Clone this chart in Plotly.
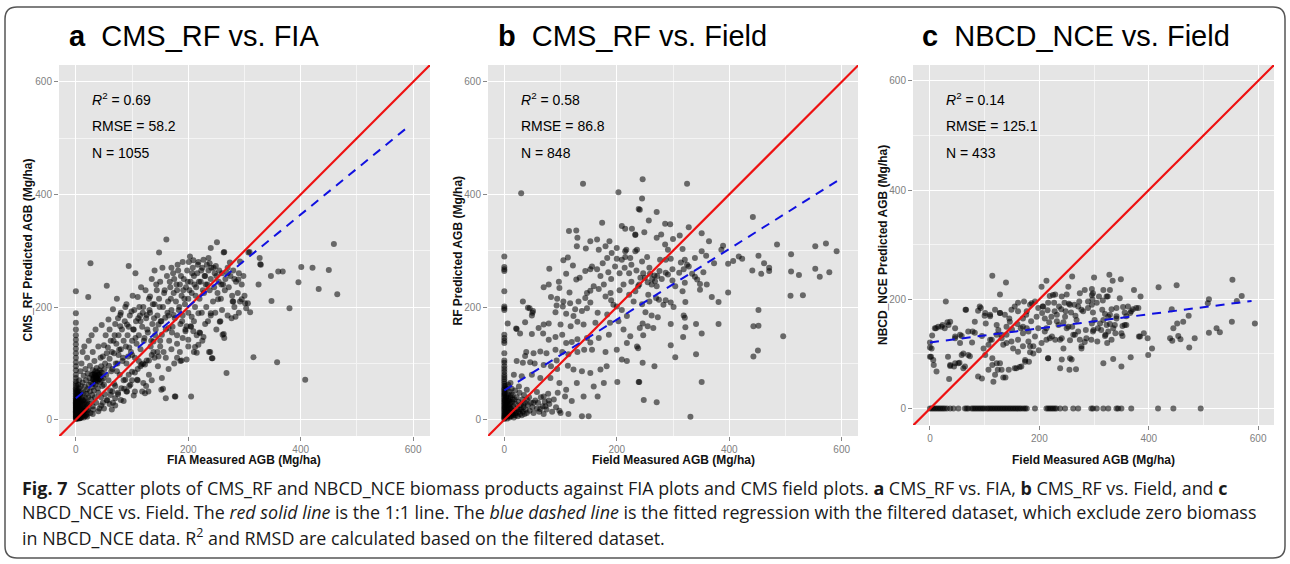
import plotly.graph_objects as go

# ---------------- data ----------------
# Panel a: CMS_RF predicted vs FIA measured AGB (Mg/ha)
a_pts = [
(0,1),(0,3),(0,5),(0,7),(0,9),(0,11),(0,13),(0,15),(0,17),(0,19),(0,21),(0,23),(0,25),(0,27),(0,29),(0,31),(0,33),(0,35),(0,38),(0,41),
(0,44),(0,47),(0,50),(0,53),(0,56),(0,60),(0,64),(0,68),(0,74),(0,80),(0,88),(0,95),(0,102),(0,110),(0,118),(0,126),(0,134),(0,142),(0,150),(0,160),
(0,172),(0,189),(0,228),(1,4),(1,12),(1,20),(1,28),(2,8),(2,16),(2,32),(2,42),(3,2),(3,24),(3,36),(3,52),(4,10),(4,18),(4,46),(4,62),(5,5),
(5,14),(5,30),(5,40),(6,22),(6,56),(6,70),(7,3),(7,12),(7,34),(8,8),(8,26),(8,44),(8,86),(9,18),(9,60),(10,4),(10,30),(10,50),(10,100),(11,14),
(11,40),(12,22),(12,66),(12,120),(13,8),(13,35),(14,48),(14,78),(15,16),(15,28),(15,130),(16,6),(16,58),(17,38),(17,90),(18,20),(18,70),(19,46),(20,10),(20,30),
(20,54),(20,110),(21,82),(22,18),(22,40),(22,218),(23,62),(23,140),(24,28),(24,74),(25,50),(25,96),(26,12),(26,278),(27,36),(27,66),(28,80),(28,150),(29,44),(29,58),
(30,24),(30,72),(30,88),(30,120),(31,18),(31,64),(32,52),(32,76),(33,82),(33,104),(34,70),(34,40),(35,62),(35,86),(35,160),(36,78),(36,30),(37,74),(37,92),(38,68),
(38,84),(39,56),(40,80),(40,48),(40,130),(41,72),(42,88),(42,20),(43,66),(44,76),(44,110),(45,95),(45,40),(46,84),(46,168),(47,60),(48,112),(48,30),(49,74),(50,62),
(50,132),(51,90),(52,100),(52,45),(53,150),(54,80),(55,238),(55,118),(56,34),(57,128),(58,70),(58,178),(59,96),(60,108),(60,160),(61,52),(62,44),(62,140),(63,86),(64,120),
(64,18),(65,90),(66,30),(66,196),(67,140),(68,118),(68,64),(69,150),(70,170),(70,60),(70,38),(71,100),(72,135),(73,86),(73,215),(74,100),(75,180),(75,48),(76,150),(76,115),
(77,124),(78,80),(79,166),(79,186),(80,125),(80,190),(81,56),(82,160),(83,104),(84,110),(85,140),(85,33),(86,55),(87,175),(88,71),(88,200),(89,130),(90,100),(90,205),(91,50),
(91,169),(92,150),(93,112),(94,273),(94,165),(94,80),(95,128),(96,185),(97,62),(98,120),(99,192),(100,140),(100,70),(100,115),(101,220),(102,160),(103,43),(103,160),(104,195),(105,110),
(105,84),(106,260),(106,145),(107,175),(108,135),(109,71),(110,218),(110,90),(111,180),(112,150),(112,104),(113,200),(114,185),(115,125),(115,175),(116,235),(117,98),(118,165),(118,50),(119,190),
(120,200),(120,65),(121,140),(122,145),(123,47),(123,98),(124,230),(125,180),(126,105),(126,186),(127,160),(128,155),(129,50),(130,215),(130,80),(131,195),(132,190),(132,219),(133,130),(134,140),
(135,250),(135,115),(136,170),(137,205),(138,120),(138,139),(139,180),(140,205),(140,265),(141,150),(142,160),(143,240),(144,230),(145,185),(146,95),(147,169),(147,112),(148,297),(148,215),(149,200),
(150,140),(150,245),(151,175),(152,53),(152,175),(153,151),(153,74),(154,270),(155,200),(155,55),(156,120),(157,225),(158,230),(159,181),(160,160),(160,38),(161,320),(162,255),(163,190),(164,210),
(165,185),(165,163),(166,140),(167,245),(168,235),(169,215),(170,270),(170,195),(171,155),(172,165),(173,260),(174,225),(174,186),(175,250),(176,41),(176,180),(177,41),(178,210),(179,240),(180,230),
(180,150),(180,110),(181,275),(182,265),(183,195),(184,200),(185,240),(186,170),(186,104),(187,255),(188,105),(188,220),(189,175),(190,280),(190,185),(191,230),(192,250),(193,215),(194,205),(195,160),
(195,157),(196,235),(197,107),(197,166),(198,265),(199,245),(200,215),(200,190),(200,142),(201,280),(202,230),(203,290),(204,245),(204,166),(205,41),(206,225),(206,183),(207,260),(208,270),(209,157),
(209,283),(210,175),(210,255),(211,240),(212,200),(212,129),(213,220),(214,235),(215,150),(215,119),(216,260),(217,275),(218,280),(218,189),(218,133),(219,245),(220,215),(221,154),(222,245),(223,265),
(224,190),(225,270),(226,230),(227,284),(227,147),(228,225),(229,255),(230,255),(231,240),(232,200),(233,275),(234,240),(235,175),(236,265),(236,287),(237,120),(238,230),(238,278),(239,120),(240,305),
(240,250),(240,189),(241,270),(242,109),(243,109),(244,210),(245,270),(246,235),(247,260),(248,190),(249,273),(250,255),(251,315),(252,225),(253,214),(254,245),(255,265),(256,174),(257,175),(258,215),
(259,240),(260,260),(261,151),(262,240),(263,297),(263,152),(264,145),(264,298),(265,230),(266,250),(268,83),(270,270),(270,260),(272,235),(274,279),(275,255),(277,180),(278,220),(279,210),(280,265),
(282,250),(282,200),(284,183),(285,245),(288,225),(289,249),(290,260),(292,281),(292,210),(295,240),(295,214),(298,255),(300,220),(301,207),(303,198),(306,207),(307,297),(309,298),(310,191),(316,111),
(325,240),(327,287),(328,276),(329,275),(347,255),(348,211),(358,102),(360,263),(368,263),(380,198),(396,244),(401,271),(408,71),(421,270),(432,232),(450,266),(459,312),(465,223),
(20,5),(30,10),(40,15),(45,25),(50,20),(55,35),(60,28),(65,50),(70,25),(75,45),(80,35),(85,70),(90,50),(95,60),(100,85),(105,50),(110,70),(115,95),(120,100),(125,60),
(130,105),(135,70),(140,110),(145,120),(150,130),(160,110),(165,90),(170,125),(175,100),(180,135),(185,120),(190,145),(200,130),(205,165),(210,120),(220,155),(225,140),(230,170),(240,185),(250,160),
(260,195),(270,185),(280,210),(290,190),
(1,6),(1,16),(1,24),(1,36),(2,2),(2,12),(2,22),(2,48),(3,6),(3,14),(3,30),(4,4),(4,26),(4,38),(5,9),(5,20),(5,50),(6,2),(6,14),(6,30),
(7,7),(7,20),(7,44),(8,3),(8,16),(9,10),(9,32),(10,20),(11,6),(12,12),(12,34),(13,24),(14,4),(14,16),(16,12),(16,32),(17,22),(18,8),(19,28),(21,16),
(32,72),(34,80),(36,70),(38,76),(40,72),(42,80),(44,84),(46,70),(30,80),(35,74),
]
a_fit_x = [0, 592]
a_fit_y = [38, 521]

# Panel b: CMS_RF predicted vs field measured AGB
b_pts = [
(0,1),(0,3),(0,5),(0,8),(0,11),(0,14),(0,17),(0,20),(0,23),(0,26),(0,29),(0,32),(0,35),(0,38),(0,41),(0,44),(0,47),(0,50),(0,53),(0,56),
(0,60),(0,64),(0,68),(0,72),(0,76),(0,80),(0,85),(0,90),(0,95),(0,101),(0,105),(0,118),(0,136),(0,140),(0,145),(0,151),(0,195),(0,198),(0,201),(0,228),
(0,264),(0,267),(0,271),(0,290),(2,5),(2,15),(3,25),(3,40),(4,10),(4,55),(5,2),(5,30),(6,18),(6,45),(7,8),(7,62),(8,24),(8,35),(9,4),(9,50),
(10,14),(10,28),(11,40),(12,6),(12,20),(13,55),(14,32),(15,10),(15,44),(16,24),(17,4),(18,16),(18,36),(19,52),(20,8),(20,28),(21,12),(22,40),(23,20),(24,6),
(25,32),(26,14),(27,48),(28,10),(29,26),(30,18),(31,8),(32,36),(33,14),(34,22),(35,44),(36,10),(37,30),(38,18),(40,12),(42,26),(44,40),(45,16),(47,30),(50,22),
(52,12),(55,34),(58,20),(60,30),(62,14),(65,40),(68,24),(70,10),(72,32),(75,18),(78,46),(80,28),(85,14),(88,36),(92,22),(95,48),(98,16),
(6,171),(33,210),(21,162),(45,198),(50,190),(30,402),
(140,419),(203,404),(174,350),(239,374),(115,335),(128,336),(130,323),(129,308),(145,304),(105,283),(113,288),(80,268),(122,274),(134,252),(128,249),(110,259),(70,235),(79,240),(98,234),(97,245),
(116,226),(83,218),(94,215),(105,210),(104,201),(93,203),(42,199),(51,193),(49,185),(91,191),(110,188),(123,184),(130,174),(138,193),(147,198),(153,208),(166,190),(162,172),(141,169),(118,166),
(100,169),(79,171),(70,169),(61,163),(37,173),(22,161),(28,153),(49,152),(69,153),(79,142),(91,147),(103,151),(110,136),(120,138),(130,143),(147,145),(153,137),(168,145),(186,151),(180,120),
(156,124),(142,124),(130,120),(114,116),(103,120),(91,124),(75,118),(64,121),(52,118),(39,120),(37,113),(22,104),(33,101),(46,102),(54,100),(70,97),(83,95),(93,105),(94,90),(113,96),
(123,89),(138,86),(153,83),(171,89),(182,95),(177,65),(159,59),(129,65),(110,53),(98,65),(82,74),(64,74),(49,80),(31,77),(17,80),(11,65),(26,59),(40,53),(58,49),(70,41),
(79,34),(73,24),(64,19),(52,30),(40,36),(34,27),(28,18),(20,12),(11,21),(8,33),(4,41),(15,36),(100,12),(114,10),(138,6),(150,6),(120,33),(108,41),(141,41),(166,41),
(200,286),(209,284),(215,289),(224,287),(233,299),(215,299),(191,296),(183,287),(175,278),(165,267),(153,267),(171,255),(159,237),(153,229),(168,232),(177,240),(189,225),(180,219),(194,204),(200,201),
(209,195),(218,184),(203,175),(188,172),(183,187),(212,160),(224,148),(218,136),(200,124),(209,107),(218,104),(236,130),(239,67),(201,67),(165,320),(153,317),(187,317),(168,302),(180,308),(200,305),
(217,302),(209,344),(215,339),(227,339),(233,329),(144,264),(156,272),(132,210),(147,225),(144,216),(126,196),(117,207),
(246,427),(325,419),(245,393),(241,373),(271,369),(257,354),(286,348),(295,347),(328,342),(351,331),(364,317),(389,309),(233,328),(249,333),(271,323),(279,329),(286,311),(291,302),(312,327),(300,321),
(236,302),(254,289),(245,281),(277,284),(287,284),(296,286),(317,303),(321,284),(314,279),(325,275),(339,287),(351,299),(359,291),(373,278),(386,302),(398,277),(407,282),(417,290),(423,286),(442,360),
(485,311),(553,308),(572,313),(591,299),(510,294),(452,291),(462,278),(471,270),(471,264),(441,265),(457,259),(510,263),(524,257),(553,268),(561,254),(578,262),(509,220),(531,221),(398,226),(381,209),
(369,218),(354,262),(360,240),(348,241),(343,249),(339,254),(334,259),(328,272),(319,267),(311,261),(299,267),(291,258),(287,261),(276,264),(267,256),(259,259),(250,252),(242,252),(238,237),(233,228),
(256,222),(271,237),(299,247),(304,237),(317,228),(321,243),(348,231),(270,216),(275,213),(287,212),(296,208),(301,200),(322,209),(319,185),(321,181),(283,204),(251,191),(262,185),(273,182),(246,171),
(255,166),(265,163),(296,170),(322,164),(341,170),(381,170),(351,153),(318,147),(296,132),(247,150),(241,163),(238,127),(246,101),(267,95),(304,111),(341,116),(240,67),(248,35),(271,31),(331,5),
(351,67),(452,195),(443,166),(452,167),(451,123),(443,112),(496,148),(263,250),(268,246),(272,255),(255,244),(262,240),(280,250),(247,260),(258,270),(235,265),(226,275),
(222,260),(214,270),(205,260),(197,272),(190,250),(212,240),(226,245),(240,240),(185,262),(230,210),(222,222),(245,205),(258,210),(205,230),(190,212),
(1,10),(1,22),(1,34),(1,46),(2,28),(2,60),(3,8),(3,18),(4,34),(5,14),(6,6),(6,26),(7,38),(8,12),(9,20),(10,6),(11,30),(12,44),(14,12),(16,8),
]
b_fit_x = [0, 600]
b_fit_y = [52, 429]

# Panel c: NBCD_NCE predicted vs field measured AGB
c_pts = [
(114,243),(139,231),(29,196),(128,209),(213,234),(204,223),(260,242),(219,206),(229,209),(241,205),(250,209),(274,211),(283,217),(296,208),(192,196),(183,190),(198,184),(207,187),(216,194),(227,194),
(236,187),(246,194),(254,192),(264,190),(271,187),(277,181),(289,184),(296,190),(155,187),(161,194),(149,181),(137,172),(145,165),(128,175),(119,181),(110,172),(101,175),(88,179),(91,187),(65,181),
(37,159),(34,153),(21,150),(15,150),(9,147),(4,134),(0,121),(0,112),(2,95),(6,89),(12,68),(35,54),(37,78),(44,77),(52,83),(58,98),(70,98),(61,74),(64,77),(46,147),
(46,129),(55,120),(58,133),(70,141),(77,121),(82,139),(95,133),(98,110),(101,98),(107,117),(113,126),(122,135),(125,144),(131,129),(134,117),(140,135),(149,123),(152,110),(161,126),(161,104),
(170,138),(170,114),(177,147),(180,123),(183,103),(189,114),(192,132),(199,107),(204,120),(210,141),(213,126),(216,92),(223,132),(229,126),(241,129),(241,90),(244,110),(253,150),(256,125),(259,90),
(265,135),(271,141),(274,126),(277,110),(283,122),(286,129),(296,156),(299,144),(114,92),(114,80),(122,83),(124,71),(131,71),(119,62),(134,57),(116,49),(155,74),(167,77),(174,89),(181,86),
(144,71),(107,71),(95,55),(7,80),(0,95),(3,110),(33,95),(37,80),(46,83),(54,84),(61,101),(73,96),(88,59),(128,83),(138,57),(158,74),(164,76),(174,86),(11,147),(23,153),
(27,147),(32,158),(46,132),(55,135),(66,181),(78,141),(82,159),(93,184),(102,156),(100,170),(110,169),(110,126),(122,153),(128,175),(131,135),(140,120),(146,159),(161,178),(166,147),(172,196),
(177,178),(180,141),(183,114),(186,193),(189,101),(198,147),(206,187),(210,165),(213,147),(219,129),(225,208),(228,178),(235,153),(238,126),(247,168),(250,147),(253,223),(256,190),(262,135),(268,162),
(273,196),(277,114),(280,178),(285,144),(289,196),(295,126),(298,211),(301,162),(307,147),(309,205),(315,181),(321,135),(325,205),(329,172),(335,147),(341,169),(350,138),(356,153),(362,187),(368,178),
(377,184),(384,132),(359,169),(238,74),(255,71),(267,72),(256,92),(216,92),(317,83),(335,91),(350,77),(367,94),
(300,240),(328,245),(349,237),(334,234),(418,222),(451,226),(553,236),(570,206),(561,197),(510,200),(508,193),(296,219),(317,217),(329,217),(373,217),(385,205),(297,200),(305,194),(316,198),(323,205),
(347,202),(332,182),(341,184),(353,186),(356,176),(366,175),(371,182),(381,184),(298,176),(320,173),(326,168),(341,165),(317,162),(311,156),(323,153),(329,155),(338,153),(352,151),(359,153),(298,141),
(313,144),(326,141),(339,138),(320,133),(352,133),(306,123),(324,120),(332,126),(382,132),(391,138),(398,129),(406,110),(399,98),(442,182),(445,147),(452,156),(463,159),(473,170),(439,129),(443,124),
(454,133),(458,127),(484,129),(474,112),(524,147),(530,140),(510,139),(552,159),(594,156),
(170,165),(176,172),(185,160),(195,168),(205,175),(215,180),(222,168),(232,172),(240,182),(248,178),(258,176),(266,170),(232,160),(218,158),(244,158),(260,150),(170,150),(160,155),(150,145),(140,150),
]
c_zero_x = [0,3,6,9,12,15,18,21,24,27,31,37,43,52,64,67,70,76,79,82,85,88,91,94,97,100,104,107,110,113,116,119,122,125,128,131,134,137,140,143,
            146,149,152,155,158,161,164,167,171,174,177,192,213,216,219,222,225,228,231,238,247,262,271,295,298,305,317,326,341,344,350,368,417,445,495]
c_fit_x = [0, 588]
c_fit_y = [121, 197]

one_to_one = [-40, 640]

titles = ["<b>a</b>\u00a0\u00a0CMS_RF vs. FIA", "<b>b</b>\u00a0\u00a0CMS_RF vs. Field", "<b>c</b>\u00a0\u00a0NBCD_NCE vs. Field"]
x_titles = ["FIA Measured AGB (Mg/ha)", "Field Measured AGB (Mg/ha)", "Field Measured AGB (Mg/ha)"]
y_titles = ["CMS_RF Predicted AGB (Mg/ha)", "RF Predicted AGB (Mg/ha)", "NBCD_NCE Predicted AGB (Mg/ha)"]
r2_text = ["0.69", "0.58", "0.14"]
rmse_text = ["58.2", "86.8", "125.1"]
n_text = ["1055", "848", "433"]
tick_vals = [0, 200, 400, 600]
minor_vals = [100, 300, 500]

# ---------------- figure ----------------
W, H = 1290, 564
fig = go.Figure()

dot = dict(color="rgba(0,0,0,0.55)", size=6, line=dict(width=0))

panels = [
    (a_pts, [], a_fit_x, a_fit_y),
    (b_pts, [], b_fit_x, b_fit_y),
    (c_pts, c_zero_x, c_fit_x, c_fit_y),
]
for i, (pts, zx, fx, fy) in enumerate(panels):
    xa = "x" if i == 0 else f"x{i+1}"
    ya = "y" if i == 0 else f"y{i+1}"
    px = [p[0] for p in pts] + list(zx)
    py = [p[1] for p in pts] + [0] * len(zx)
    fig.add_trace(go.Scatter(x=px, y=py, mode="markers", marker=dot, xaxis=xa, yaxis=ya,
                             showlegend=False, hoverinfo="skip"))
    fig.add_trace(go.Scatter(x=one_to_one, y=one_to_one, mode="lines",
                             line=dict(color="#ee1111", width=2.2), xaxis=xa, yaxis=ya,
                             showlegend=False, hoverinfo="skip"))
    fig.add_trace(go.Scatter(x=fx, y=fy, mode="lines",
                             line=dict(color="#1010e0", width=2, dash="9px,7px"), xaxis=xa, yaxis=ya,
                             showlegend=False, hoverinfo="skip"))

# plot-area geometry in pixels (left, right, top, bottom)
boxes = [(59, 430, 65, 436), (488, 858, 65, 436), (913, 1274, 65, 425)]
ranges_x = [[-30, 630], [-29, 629], [-31, 629]]
ranges_y = [[-29, 630], [-29, 630], [-30, 629]]

axis_common = dict(
    tickvals=tick_vals, showgrid=True, gridcolor="white", gridwidth=1.3,
    minor=dict(tickvals=minor_vals, showgrid=True, gridcolor="#f4f4f4", gridwidth=0.7, ticks=""),
    ticks="outside", ticklen=4, tickwidth=1, tickcolor="#888888",
    tickfont=dict(family="Liberation Sans, Arial", size=10, color="#808080"),
    zeroline=False, showline=False, fixedrange=True,
)

layout_axes = {}
for i, (l, r, t, b) in enumerate(boxes):
    suffix = "" if i == 0 else str(i + 1)
    xd = [l / W, r / W]
    yd = [1 - b / H, 1 - t / H]
    layout_axes[f"xaxis{suffix}"] = dict(axis_common, domain=xd, range=ranges_x[i],
                                         anchor=f"y{suffix}")
    layout_axes[f"yaxis{suffix}"] = dict(axis_common, domain=yd, range=ranges_y[i],
                                         anchor=f"x{suffix}")

annotations = []
title_x = [67, 496, 920]
ytitle_x = [27, 457, 883]
stat_x = [90, 519, 944]
for i, (l, r, t, b) in enumerate(boxes):
    annotations.append(dict(text=titles[i], xref="paper", yref="paper", x=title_x[i] / W, y=1 - 36 / H,
                            xanchor="left", yanchor="middle", showarrow=False,
                            font=dict(family="Liberation Sans, Arial", size=29, color="black")))
    annotations.append(dict(text=f"<b>{x_titles[i]}</b>", xref="paper", yref="paper",
                            x=(l + r) / 2 / W, y=1 - 460 / H, xanchor="center", yanchor="middle",
                            showarrow=False, font=dict(family="Liberation Sans, Arial", size=12, color="#111")))
    annotations.append(dict(text=f"<b>{y_titles[i]}</b>", xref="paper", yref="paper",
                            x=ytitle_x[i] / W, y=1 - (t + b) / 2 / H, xanchor="center", yanchor="middle",
                            textangle=-90, showarrow=False,
                            font=dict(family="Liberation Sans, Arial", size=12, color="#111")))
    stats = [f"<i>R</i><sup>2</sup> = {r2_text[i]}", f"RMSE = {rmse_text[i]}", f"N = {n_text[i]}"]
    for j, (s, yy) in enumerate(zip(stats, [99, 126, 153])):
        annotations.append(dict(text=s, xref="paper", yref="paper", x=stat_x[i] / W, y=1 - yy / H,
                                xanchor="left", yanchor="middle", showarrow=False,
                                font=dict(family="Liberation Sans, Arial", size=14, color="black")))

caption = [
    "<b>Fig. 7</b>  Scatter plots of CMS_RF and NBCD_NCE biomass products against FIA plots and CMS field plots. <b>a</b> CMS_RF vs. FIA, <b>b</b> CMS_RF vs. Field, and <b>c</b>",
    "NBCD_NCE vs. Field. The <i>red solid line</i> is the 1:1 line. The <i>blue dashed line</i> is the fitted regression with the filtered dataset, which exclude zero biomass",
    "in NBCD_NCE data. R<sup>2</sup> and RMSD are calculated based on the filtered dataset.",
]
for yy, line in zip([488, 512, 537], caption):
    annotations.append(dict(text=line, xref="paper", yref="paper", x=20 / W, y=1 - yy / H,
                            xanchor="left", yanchor="middle", showarrow=False,
                            font=dict(family="Open Sans", size=17.9, color="#1a1a1a")))

# rounded frame
x0, x1 = 5 / W, 1285 / W
y0, y1 = 1 - 558 / H, 1 - 7 / H
rx, ry = 12 / W, 12 / H
path = (f"M {x0+rx},{y1} L {x1-rx},{y1} Q {x1},{y1} {x1},{y1-ry} L {x1},{y0+ry} "
        f"Q {x1},{y0} {x1-rx},{y0} L {x0+rx},{y0} Q {x0},{y0} {x0},{y0+ry} "
        f"L {x0},{y1-ry} Q {x0},{y1} {x0+rx},{y1} Z")

fig.update_layout(
    width=W, height=H, margin=dict(l=0, r=0, t=0, b=0),
    paper_bgcolor="white", plot_bgcolor="#e5e5e5",
    annotations=annotations,
    shapes=[dict(type="path", path=path, xref="paper", yref="paper",
                 line=dict(color="#555555", width=1.5), fillcolor="rgba(0,0,0,0)", layer="above")],
    **layout_axes,
)

fig.write_html("out.html")
